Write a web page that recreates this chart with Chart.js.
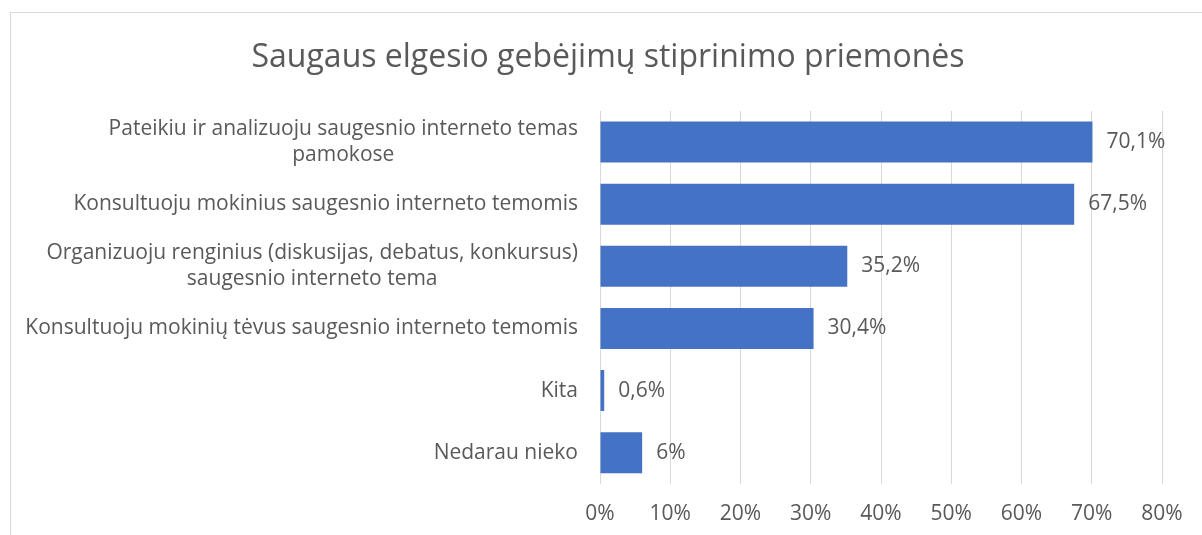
<!DOCTYPE html>
<html>
<head>
<meta charset="utf-8">
<script src="https://cdn.jsdelivr.net/npm/chart.js@4/dist/chart.umd.min.js"></script>
<style>
  html, body { margin: 0; padding: 0; background: #fff; overflow: hidden; }
  #box { position: absolute; left: 10px; top: 12px; width: 1194px; height: 549px; border: 1px solid #d9d9d9; }
  #chart { display: block; }
</style>
</head>
<body>
<div id="box"><canvas id="chart" width="1194" height="549"></canvas></div>
<script>
const categories = [
  ['Pateikiu ir analizuoju saugesnio interneto temas', 'pamokose'],
  ['Konsultuoju mokinius saugesnio interneto temomis'],
  ['Organizuoju renginius (diskusijas, debatus, konkursus)', 'saugesnio interneto tema'],
  ['Konsultuoju mokinių tėvus saugesnio interneto temomis'],
  ['Kita'],
  ['Nedarau nieko']
];
const values = [70.1, 67.5, 35.2, 30.4, 0.6, 6];
const xTicks = [0, 10, 20, 30, 40, 50, 60, 70, 80];
const titleText = 'Saugaus elgesio gebėjimų stiprinimo priemonės';

const textColor = '#595959';
const fontFamily = '"Open Sans", "DejaVu Sans", sans-serif';

function fmt(v) {
  return String(v).replace('.', ',') + '%';
}

// title centred on the whole chart box
const titlePlugin = {
  id: 'titlePlugin',
  afterDraw(chart) {
    const ctx = chart.ctx;
    ctx.save();
    ctx.font = '32px ' + fontFamily;
    ctx.fillStyle = textColor;
    ctx.textAlign = 'center';
    ctx.textBaseline = 'middle';
    ctx.fillText(titleText, chart.width / 2, 45);
    ctx.restore();
  }
};

// y-axis labels: right-aligned block, lines centred within the block
const catLabels = {
  id: 'catLabels',
  afterDraw(chart) {
    const ctx = chart.ctx;
    const y = chart.scales.y;
    const right = chart.chartArea.left - 22;
    ctx.save();
    ctx.font = '21px ' + fontFamily;
    ctx.fillStyle = textColor;
    ctx.textAlign = 'center';
    ctx.textBaseline = 'middle';
    const lh = 26;
    categories.forEach((lines, i) => {
      const w = Math.max(...lines.map(l => ctx.measureText(l).width));
      const cx = right - w / 2;
      const cy = y.getPixelForValue(i);
      lines.forEach((l, j) => {
        ctx.fillText(l, cx, cy + (j - (lines.length - 1) / 2) * lh);
      });
    });
    ctx.restore();
  }
};

// value labels after bar ends
const valueLabels = {
  id: 'valueLabels',
  afterDatasetsDraw(chart) {
    const ctx = chart.ctx;
    const meta = chart.getDatasetMeta(0);
    ctx.save();
    ctx.font = '21px ' + fontFamily;
    ctx.fillStyle = textColor;
    ctx.textAlign = 'left';
    ctx.textBaseline = 'middle';
    meta.data.forEach((bar, i) => {
      ctx.fillText(fmt(values[i]), bar.x + 14, bar.y);
    });
    ctx.restore();
  }
};

new Chart(document.getElementById('chart'), {
  type: 'bar',
  data: {
    labels: categories.map(c => c.join(' ')),
    datasets: [{
      data: values,
      backgroundColor: '#4472C4',
      borderWidth: 0,
      categoryPercentage: 1,
      barPercentage: 0.66
    }]
  },
  options: {
    indexAxis: 'y',
    responsive: false,
    animation: false,
    layout: { padding: { left: 589, right: 43, top: 98, bottom: 17 } },
    scales: {
      x: {
        min: 0,
        max: 80,
        afterBuildTicks: (scale) => { scale.ticks = xTicks.map(v => ({ value: v })); },
        ticks: {
          callback: (v) => v + '%',
          color: textColor,
          font: { family: fontFamily, size: 21 },
          padding: 18
        },
        grid: { color: '#d9d9d9', lineWidth: 1, drawTicks: false },
        border: { display: false }
      },
      y: {
        ticks: { display: false },
        grid: { display: false, drawTicks: false },
        border: { display: false }
      }
    },
    plugins: {
      legend: { display: false },
      tooltip: { enabled: false },
      title: { display: false }
    }
  },
  plugins: [titlePlugin, catLabels, valueLabels]
});
</script>
</body>
</html>
